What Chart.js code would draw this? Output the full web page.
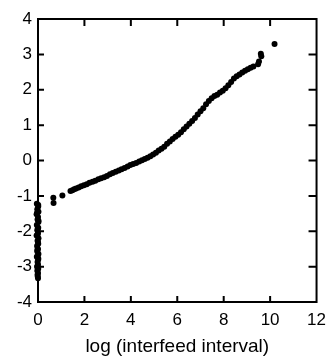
<!DOCTYPE html>
<html>
<head>
<meta charset="utf-8">
<script src="https://cdn.jsdelivr.net/npm/chart.js@4/dist/chart.umd.min.js"></script>
<style>
html,body{margin:0;padding:0;background:#fff;}
canvas{display:block;}
</style>
</head>
<body>
<canvas id="c" width="334" height="360"></canvas>
<script>
// x ticks / y ticks
const xTicks = [0, 2, 4, 6, 8, 10, 12];
const yTicks = [-4, -3, -2, -1, 0, 1, 2, 3, 4];
const xTitle = "log (interfeed interval)";

// vertical cluster near log interval = 0
const clusterX = [-0.05, 0.01, -0.03, 0.02, -0.06, 0.00, -0.02, 0.02, -0.05, 0.01, -0.03, 0.00, -0.06, 0.02, -0.02, 0.01, -0.04, 0.00, -0.03, 0.02, -0.05, 0.01, -0.02, 0.00, -0.04, 0.01, -0.03, 0.00, -0.02, -0.01, 0.00, -0.02, 0.01, -0.04, 0.02, -0.01, 0.00, -0.03, 0.01, -0.02];
const clusterY = [-1.22, -1.30, -1.38, -1.45, -1.52, -1.60, -1.67, -1.74, -1.82, -1.90, -1.97, -2.05, -2.12, -2.20, -2.27, -2.35, -2.42, -2.50, -2.57, -2.64, -2.72, -2.80, -2.87, -2.94, -3.00, -3.06, -3.12, -3.18, -3.23, -3.28, -3.33, -2.10, -1.26, -1.48, -1.70, -1.93, -2.31, -2.53, -2.76, -2.98];

// main curve
const curveX = [0.66, 0.67, 1.05, 1.40, 1.48, 1.56, 1.64, 1.75, 1.86, 1.98, 2.10, 2.22, 2.35, 2.47, 2.60, 2.72, 2.85, 2.97, 3.10, 3.22, 3.35, 3.48, 3.60, 3.73, 3.86, 3.98, 4.10, 4.23, 4.36, 4.48, 4.60, 4.72, 4.84, 4.96, 5.08, 5.20, 5.32, 5.44, 5.56, 5.68, 5.80, 5.92, 6.04, 6.16, 6.28, 6.40, 6.52, 6.64, 6.76, 6.88, 7.00, 7.12, 7.24, 7.36, 7.48, 7.60, 7.72, 7.84, 7.96, 8.08, 8.20, 8.32, 8.44, 8.56, 8.68, 8.80, 8.92, 9.04, 9.16, 9.28, 9.48, 9.52, 9.60, 9.62, 10.19];
const curveY = [-1.05, -1.20, -0.99, -0.86, -0.84, -0.81, -0.79, -0.76, -0.73, -0.70, -0.67, -0.63, -0.60, -0.57, -0.53, -0.50, -0.47, -0.44, -0.39, -0.35, -0.32, -0.28, -0.25, -0.21, -0.17, -0.13, -0.10, -0.07, -0.03, 0.01, 0.04, 0.08, 0.12, 0.17, 0.22, 0.28, 0.33, 0.39, 0.47, 0.54, 0.61, 0.67, 0.73, 0.80, 0.88, 0.96, 1.04, 1.12, 1.20, 1.30, 1.39, 1.48, 1.59, 1.68, 1.76, 1.82, 1.86, 1.92, 1.97, 2.04, 2.13, 2.22, 2.32, 2.38, 2.43, 2.49, 2.54, 2.58, 2.62, 2.66, 2.72, 2.80, 3.02, 2.95, 3.29];

const pts = [];
clusterX.forEach((x, i) => pts.push({x: x, y: clusterY[i]}));
curveX.forEach((x, i) => pts.push({x: x, y: curveY[i]}));

const frame = {
  id: 'frame',
  afterDatasetsDraw(chart) {
    const ctx = chart.ctx;
    const xs = chart.scales.x, ys = chart.scales.y;
    const L = xs.getPixelForValue(0), R = xs.getPixelForValue(12);
    const T = ys.getPixelForValue(4), B = ys.getPixelForValue(-4);
    ctx.save();
    ctx.strokeStyle = '#000';
    ctx.lineWidth = 2;
    ctx.strokeRect(L, T, R - L, B - T);
    ctx.beginPath();
    yTicks.forEach(v => {
      const p = ys.getPixelForValue(v);
      ctx.moveTo(L, p); ctx.lineTo(L + 6, p);
      ctx.moveTo(R, p); ctx.lineTo(R - 8, p);
    });
    xTicks.slice(1, -1).forEach(v => {
      const p = xs.getPixelForValue(v);
      ctx.moveTo(p, T); ctx.lineTo(p, T + 7);
      ctx.moveTo(p, B); ctx.lineTo(p, B - 6);
    });
    ctx.stroke();
    ctx.restore();
  }
};

new Chart(document.getElementById('c'), {
  type: 'scatter',
  data: {
    datasets: [{
      data: pts,
      backgroundColor: '#000',
      borderColor: '#000',
      pointRadius: 3,
      pointBorderWidth: 0,
      clip: false
    }]
  },
  options: {
    responsive: false,
    animation: false,
    devicePixelRatio: 1,
    layout: {padding: {top: 19, right: 16, left: 0, bottom: 0}},
    plugins: {legend: {display: false}, tooltip: {enabled: false}},
    scales: {
      x: {
        type: 'linear', min: 0, max: 12,
        afterBuildTicks(s) { s.ticks = xTicks.map(v => ({value: v})); },
        afterFit(s) { s.height = 58; },
        grid: {display: false, drawTicks: false},
        border: {display: false},
        ticks: {color: '#000', padding: 8, maxRotation: 0, font: {family: 'Liberation Sans', size: 17}},
        title: {display: true, text: xTitle, color: '#000', padding: {top: 2, bottom: 2}, font: {family: 'Liberation Sans', size: 19}}
      },
      y: {
        type: 'linear', min: -4, max: 4,
        afterBuildTicks(s) { s.ticks = yTicks.map(v => ({value: v})); },
        afterFit(s) { s.width = 38; },
        grid: {display: false, drawTicks: false},
        border: {display: false},
        ticks: {color: '#000', padding: 6, font: {family: 'Liberation Sans', size: 17}}
      }
    }
  },
  plugins: [frame]
});
</script>
</body>
</html>
